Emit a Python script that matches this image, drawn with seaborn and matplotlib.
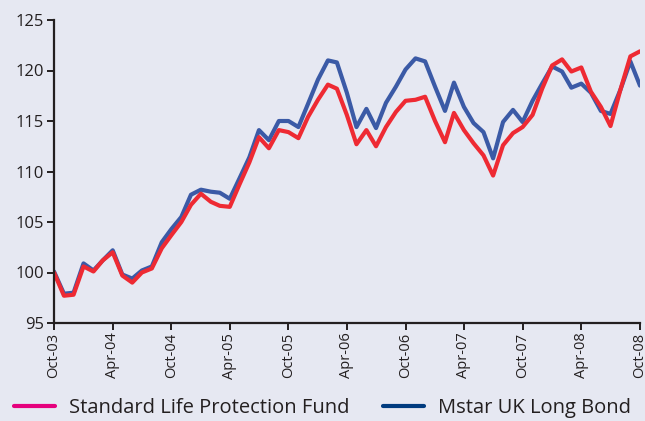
import matplotlib
matplotlib.use("Agg")
import matplotlib.pyplot as plt
from matplotlib.lines import Line2D
import seaborn as sns
import pandas as pd
import numpy as np

months = pd.date_range("2003-10-01", periods=61, freq="MS")

standard_life = [100.0, 97.7, 97.8, 100.6, 100.1, 101.2, 102.0, 99.7, 99.0, 100.0,
                 100.4, 102.4, 103.7, 105.0, 106.7, 107.8, 107.0, 106.6, 106.5, 108.7,
                 110.9, 113.4, 112.3, 114.1, 113.9, 113.3, 115.4, 117.1, 118.6, 118.2,
                 115.6, 112.7, 114.1, 112.5, 114.4, 115.9, 117.0, 117.1, 117.4, 115.0,
                 112.9, 115.8, 114.1, 112.8, 111.6, 109.6, 112.6, 113.8, 114.4, 115.6,
                 118.2, 120.5, 121.1, 119.9, 120.3, 117.9, 116.4, 114.5, 118.1, 121.4,
                 121.9]
mstar_long_bond = [100.1, 97.9, 98.0, 100.9, 100.2, 101.2, 102.2, 99.8, 99.4, 100.2,
                   100.6, 103.0, 104.3, 105.5, 107.7, 108.2, 108.0, 107.9, 107.3, 109.3,
                   111.4, 114.1, 113.1, 115.0, 115.0, 114.4, 116.7, 119.1, 121.0, 120.8,
                   117.8, 114.4, 116.2, 114.3, 116.8, 118.4, 120.1, 121.2, 120.9, 118.4,
                   116.0, 118.8, 116.4, 114.8, 113.9, 111.3, 114.9, 116.1, 114.9, 117.0,
                   118.7, 120.4, 119.9, 118.3, 118.7, 117.8, 116.0, 115.7, 118.1, 120.9,
                   118.5]
series_names = ["Standard Life Protection Fund", "Mstar UK Long Bond"]
yticks = [95, 100, 105, 110, 115, 120, 125]

bg = "#e6e8f2"
ink = "#231f20"
line_colors = {"Mstar UK Long Bond": "#3b5aa6", "Standard Life Protection Fund": "#ee2a33"}
legend_colors = ["#e5007d", "#003b7f"]

df = pd.concat([
    pd.DataFrame({"date": months, "value": mstar_long_bond, "series": series_names[1]}),
    pd.DataFrame({"date": months, "value": standard_life, "series": series_names[0]}),
])

sns.set_theme(style="white")
plt.rcParams["font.family"] = ["Open Sans", "DejaVu Sans"]

fig = plt.figure(figsize=(6.45, 4.21), dpi=100, facecolor=bg)
ax = fig.add_axes([54 / 645, 1 - 323 / 421, (640 - 54) / 645, (323 - 20) / 421])
ax.set_facecolor(bg)

sns.lineplot(data=df, x="date", y="value", hue="series",
             hue_order=[series_names[1], series_names[0]],
             palette=line_colors, linewidth=3.0, legend=False, ax=ax)

ax.set_ylim(95, 125)
ax.set_xlim(months[0], months[-1])
ax.set_yticks(yticks)
ax.set_yticklabels([str(t) for t in yticks], fontsize=12, color=ink)
xt = months[::6]
ax.set_xticks(xt)
ax.set_xticklabels([d.strftime("%b-%y") for d in xt], rotation=90, fontsize=10.5, color=ink)
ax.set_xlabel("")
ax.set_ylabel("")
for s in ["top", "right"]:
    ax.spines[s].set_visible(False)
for s in ["left", "bottom"]:
    ax.spines[s].set_color(ink)
    ax.spines[s].set_linewidth(1.6)
ax.tick_params(axis="both", direction="out", length=5, width=1.4, color=ink, pad=2,
               left=True, bottom=True)
ax.margins(0)

handles = [Line2D([], [], color=c, linewidth=3) for c in legend_colors]
fig.legend(handles, series_names, loc="center", bbox_to_anchor=(0.5, 1 - 408 / 421),
           ncol=2, frameon=False, fontsize=14.5, handlelength=2.0, handletextpad=0.7,
           columnspacing=1.7, labelcolor=ink, borderpad=0, borderaxespad=0)

fig.savefig("out.png", dpi=100, facecolor=bg)
